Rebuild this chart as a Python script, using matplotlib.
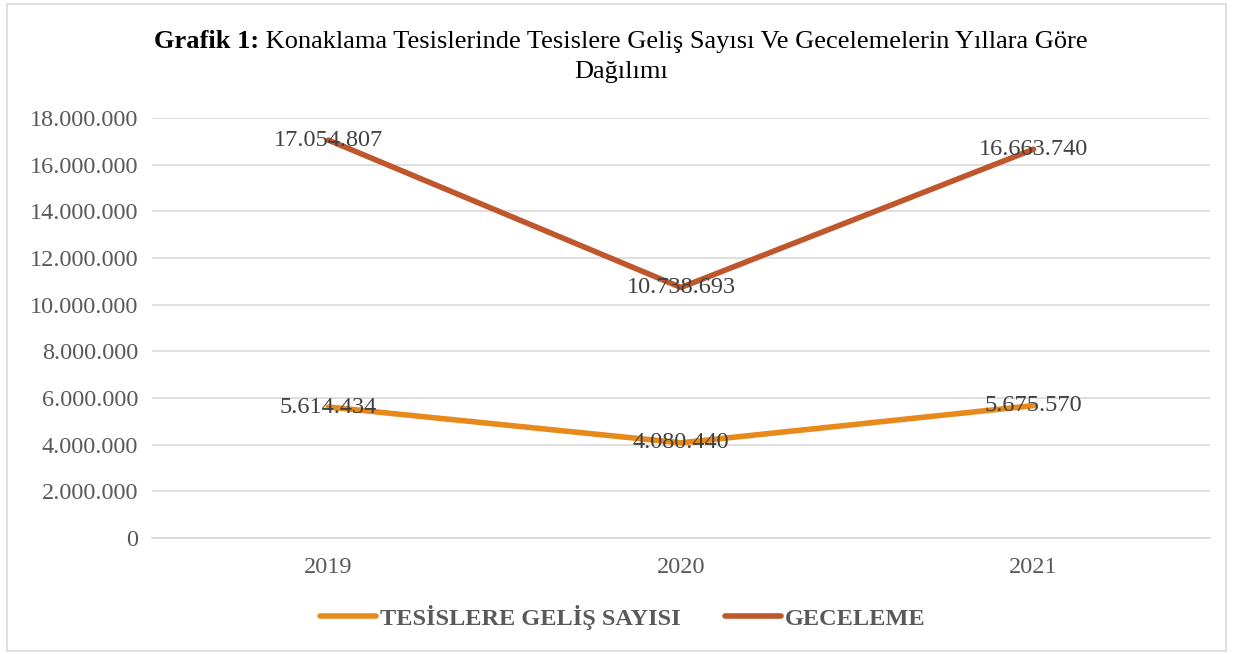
import matplotlib.pyplot as plt
from matplotlib.patches import Rectangle

plt.rcParams['font.family'] = ['Liberation Serif', 'DejaVu Serif']

# veriler
yillar = ['2019', '2020', '2021']
gelis = [5614434, 4080440, 5675570]
geceleme = [17054807, 10738693, 16663740]
seri_adlari = ['TESİSLERE GELİŞ SAYISI', 'GECELEME']
renkler = ['#E8891B', '#C0562C']
yazi_rengi = '#595959'


def nokta_format(v):
    return f'{int(v):,}'.replace(',', '.')


fig = plt.figure(figsize=(12.33, 6.55), dpi=100)
ax = fig.add_axes([0.1233, 0.1786, 0.858, 0.6412])

x = range(len(yillar))
for seri, ad, renk in zip([gelis, geceleme], seri_adlari, renkler):
    ax.plot(x, seri, color=renk, linewidth=4, solid_capstyle='round', label=ad, zorder=3)
    for xi, v in zip(x, seri):
        ax.text(xi, v, nokta_format(v), ha='center', va='center', fontsize=17.5,
                color='#404040', zorder=4)

ax.set_xlim(-0.5, 2.5)
ax.set_ylim(0, 18000000)
ax.set_yticks(range(0, 18000001, 2000000))
ax.set_yticklabels([nokta_format(t) for t in range(0, 18000001, 2000000)])
ax.set_xticks(list(x))
ax.set_xticklabels(yillar)
ax.tick_params(axis='both', length=0, labelsize=17.5, labelcolor=yazi_rengi)
ax.tick_params(axis='y', pad=10)
ax.tick_params(axis='x', pad=14)
ax.grid(axis='y', color='#D9D9D9', linewidth=1.2)
ax.set_axisbelow(True)
for s in ['top', 'right', 'left']:
    ax.spines[s].set_visible(False)
ax.spines['bottom'].set_color('#D9D9D9')
ax.spines['bottom'].set_linewidth(1.2)

leg = fig.legend(loc='center', bbox_to_anchor=(0.505, 0.058), ncol=2, frameon=False,
                 prop={'weight': 'bold', 'size': 17.5}, handlelength=2.3, handletextpad=0.15,
                 columnspacing=1.85)
for t in leg.get_texts():
    t.set_color(yazi_rengi)

# baslik: kalin ve normal kisim
fig.canvas.draw()
r = fig.canvas.get_renderer()
kalin = fig.text(0, 0, 'Grafik 1:', fontsize=19, fontweight='bold')
normal = fig.text(0, 0, ' Konaklama Tesislerinde Tesislere Geliş Sayısı Ve Gecelemelerin Yıllara Göre',
                  fontsize=19)
w1 = kalin.get_window_extent(r).width
w2 = normal.get_window_extent(r).width
W = fig.bbox.width
x0 = (621 - (w1 + w2) / 2) / W
y1 = 1 - 42 / 655
kalin.set_position((x0, y1))
kalin.set_va('center')
normal.set_position((x0 + w1 / W, y1))
normal.set_va('center')
fig.text(621 / W, 1 - 72 / 655, 'Dağılımı', fontsize=19, ha='center', va='center')

fig.patches.append(Rectangle((0.006, 0.006), 0.988, 0.988, transform=fig.transFigure,
                             fill=False, edgecolor='#D9D9D9', linewidth=1.2))

fig.savefig('out.png', dpi=100)
